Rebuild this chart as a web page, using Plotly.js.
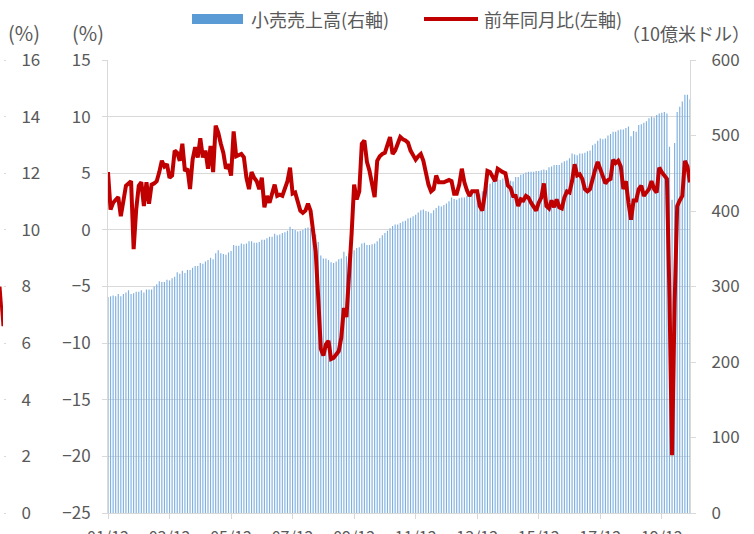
<!DOCTYPE html>
<html><head><meta charset="utf-8">
<script src="https://cdn.plot.ly/plotly-3.0.1.min.js"></script>
<style>html,body{margin:0;padding:0;background:#fff;}#chart{width:754px;height:534px;}</style>
</head><body><div id="chart"></div>
<script>
// ---- data ----
const startYear = 2001, startMonth = 12, nMonths = 228;
const categories = [];
for (let k = 0; k < nMonths; k++) {
  const m0 = startMonth - 1 + k;
  const y = startYear + Math.floor(m0 / 12), m = (m0 % 12) + 1;
  categories.push(String(y % 100).padStart(2, '0') + '/' + String(m).padStart(2, '0'));
}
const tickLabels = ["01/12","03/12","05/12","07/12","09/12","11/12","13/12","15/12","17/12","19/12"];

// retail sales, 10億米ドル (right axis)
const retailSales = [
  286,
  287,288,287,290,287,290,292,295,290,291,293,293,
  295,292,296,296,296,300,303,307,306,306,309,308,
  311,313,319,317,321,318,322,322,325,327,327,331,
  330,333,335,338,336,344,348,344,343,342,345,347,
  355,354,354,357,356,357,360,360,358,358,359,362,
  362,364,366,366,370,368,369,371,372,374,379,376,
  375,373,374,375,377,378,377,373,369,359,341,337,
  337,335,332,331,333,336,337,346,340,344,346,348,
  351,352,357,358,355,355,356,357,360,364,368,371,
  374,377,380,382,382,384,386,387,390,391,393,395,
  398,401,402,400,399,397,401,404,407,406,408,410,
  413,418,416,415,417,418,418,420,421,423,426,428,
  423,426,431,434,436,439,439,442,441,443,444,443,
  440,439,445,445,448,449,451,452,452,452,453,453,
  454,455,454,458,459,461,461,461,464,466,467,470,
  476,475,474,476,476,477,479,480,487,489,493,496,
  495,496,500,502,505,505,507,508,508,510,512,499,
  506,505,514,515,517,519,523,525,524,527,529,530,
  531,529,485,415,490,531,538,545,554,554,548
];
// year-on-year change, % (left axis)
const yoyChange = [
  5.1,
  1.8,2.4,2.7,2.9,1.2,2.8,3.9,4.1,4.3,-1.7,1.8,3.9,
  4.2,2.1,4.2,2.3,4.0,4.1,4.3,5.1,6.1,5.6,5.8,4.6,
  4.8,7.0,6.8,6.1,7.6,5.2,5.4,3.6,6.2,7.3,6.4,8.1,
  6.4,7.0,5.4,7.4,5.1,9.2,8.6,7.6,6.8,5.4,5.8,4.8,
  8.7,6.5,6.6,6.7,6.4,4.6,3.6,5.1,4.6,4.3,3.6,4.6,
  2.0,3.0,2.4,3.3,4.0,3.0,3.1,3.0,3.7,4.3,5.5,3.2,
  3.3,2.4,1.7,1.5,1.7,2.3,1.7,-0.1,-1.9,-6.0,-10.5,-11.1,
  -10.1,-9.8,-11.4,-11.3,-11.0,-10.7,-9.5,-6.9,-7.7,-4.5,-0.4,4.0,
  2.7,3.4,7.6,7.9,6.0,5.2,4.2,2.9,6.1,6.5,6.7,6.8,
  7.5,8.2,6.7,7.0,7.6,8.2,8.0,7.9,7.7,7.0,6.6,6.2,
  6.5,6.7,6.1,5.1,4.0,3.4,3.6,4.8,4.2,4.2,4.2,4.3,
  4.4,4.3,3.2,3.2,4.0,5.4,4.2,3.5,3.0,3.4,3.4,3.4,
  2.1,1.7,3.2,5.2,5.1,4.7,4.3,5.4,5.2,5.1,5.0,3.9,
  3.7,3.0,3.0,2.1,2.7,2.6,3.0,2.85,2.4,2.0,1.7,2.4,
  2.85,4.1,2.1,1.9,2.6,2.0,2.7,2.0,1.9,2.85,3.4,3.3,
  4.3,5.8,4.8,4.9,4.5,3.6,3.4,3.6,4.6,5.3,6.0,5.4,
  4.8,4.1,4.4,4.5,6.2,5.9,6.1,5.6,3.6,4.3,2.4,0.9,
  2.6,2.6,3.6,3.9,3.0,3.3,3.6,4.3,3.6,3.3,5.5,5.1,
  4.8,4.5,-6.0,-19.9,-6.5,2.1,2.6,3.0,6.1,5.6,4.2
];
// tail of the neighbouring chart visible at the left edge
const neighbourX = [0, 1];
const neighbourTail = [8.0, 6.6];

const legendNames = ["小売売上高(右軸)", "前年同月比(左軸)"];

// ---- layout helpers ----
const W = 754, H = 534, T = 60, B = 21;
const px = x => x / W;
const py = y => (H - B - y) / (H - T - B);
const TXT = '#595959', GRID = '#d9d9d9';
const FONT = '"Noto Sans CJK JP", "Noto Sans", sans-serif';
const TICKFONT = {size: 17, color: TXT};

const traces = [
  {type: 'bar', x: categories, y: retailSales, yaxis: 'y', name: legendNames[0],
   marker: {color: '#7fb0e0', line: {width: 0}}, showlegend: false, hoverinfo: 'skip'},
  {type: 'scatter', mode: 'lines', x: categories, y: yoyChange, yaxis: 'y2', name: legendNames[1],
   line: {color: '#c00000', width: 4}, showlegend: false},
  {type: 'scatter', mode: 'lines', x: neighbourX, y: neighbourTail, xaxis: 'x3', yaxis: 'y3',
   line: {color: '#c00000', width: 3}, showlegend: false}
];

const layout = {
  width: W, height: H,
  margin: {l: 0, r: 0, t: T, b: B},
  paper_bgcolor: '#fff', plot_bgcolor: 'rgba(0,0,0,0)',
  font: {family: FONT, size: 15, color: TXT},
  bargap: 0.55,
  showlegend: false,
  xaxis: {type: 'category', domain: [px(108), px(690)], range: [0, nMonths - 1],
    tickmode: 'array', tickvals: tickLabels, ticktext: tickLabels,
    showgrid: false, showline: true, linecolor: GRID, linewidth: 1,
    ticks: 'outside', ticklen: 5, tickcolor: GRID, ticklabelstandoff: 5,
    tickfont: {size: 16, color: TXT}, zeroline: false},
  // bars: right axis
  yaxis: {range: [0, 600], dtick: 100, side: 'right', anchor: 'x',
    showgrid: false, showline: true, linecolor: GRID, ticks: 'outside', ticklen: 5,
    tickcolor: GRID, zeroline: false, ticklabelstandoff: 12, tickfont: TICKFONT},
  // line: left axis, with the gridlines
  yaxis2: {range: [-25, 15], dtick: 5, tick0: 0, overlaying: 'y', side: 'left', anchor: 'x',
    showgrid: true, gridcolor: GRID, gridwidth: 1,
    showline: true, linecolor: GRID, ticks: 'outside', ticklen: 5, tickcolor: GRID,
    zeroline: false, ticklabelstandoff: 8, tickfont: TICKFONT},
  xaxis3: {domain: [0, px(3)], range: [0, 1], anchor: 'y3', visible: false},
  yaxis3: {anchor: 'x3', side: 'right', range: [0, 16], dtick: 2, showgrid: false,
    showline: false, zeroline: false, ticks: 'outside', ticklen: 2, tickcolor: GRID,
    ticklabelstandoff: 12, tickfont: TICKFONT},
  shapes: [
    {type: 'rect', xref: 'paper', yref: 'paper', x0: px(192), x1: px(243), y0: py(24), y1: py(14),
     fillcolor: '#5b9bd5', line: {width: 0}},
    {type: 'line', xref: 'paper', yref: 'paper', x0: px(424), x1: px(478), y0: py(19), y1: py(19),
     line: {color: '#c00000', width: 4}}
  ],
  annotations: [
    {text: legendNames[0], xref: 'paper', yref: 'paper', x: px(249), y: py(19),
     xanchor: 'left', yanchor: 'middle', showarrow: false, font: {size: 18, color: TXT}},
    {text: legendNames[1], xref: 'paper', yref: 'paper', x: px(482), y: py(19),
     xanchor: 'left', yanchor: 'middle', showarrow: false, font: {size: 18, color: TXT}},
    {text: '(%)', xref: 'paper', yref: 'paper', x: px(88), y: py(33),
     xanchor: 'center', yanchor: 'middle', showarrow: false, font: {size: 20, color: TXT}},
    {text: '(%)', xref: 'paper', yref: 'paper', x: px(24), y: py(33),
     xanchor: 'center', yanchor: 'middle', showarrow: false, font: {size: 20, color: TXT}},
    {text: '（10億米ドル）', xref: 'paper', yref: 'paper', x: px(752), y: py(33),
     xanchor: 'right', yanchor: 'middle', showarrow: false, font: {size: 18, color: TXT}}
  ]
};

Plotly.newPlot('chart', traces, layout, {displayModeBar: false, staticPlot: true});
</script>
</body></html>
